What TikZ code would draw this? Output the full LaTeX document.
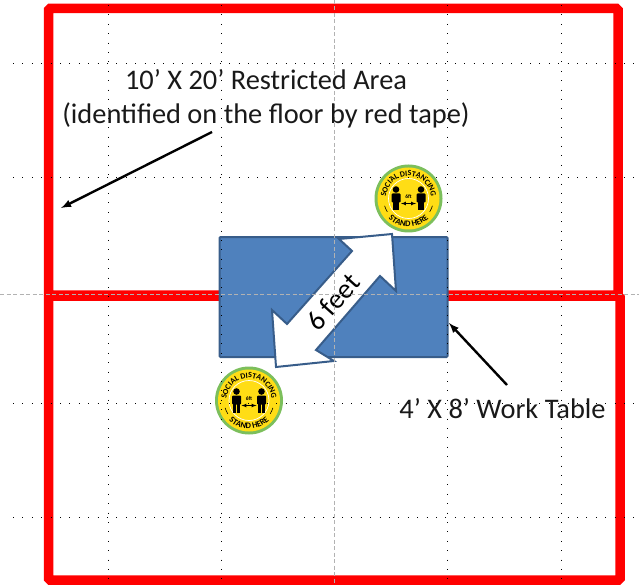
\documentclass[tikz,border=0pt]{standalone}
\usepackage{xcolor}
\usepackage{fontspec}
\setmainfont{Carlito}
\usetikzlibrary{decorations.text}
\definecolor{tapeColor}{RGB}{255, 0, 0}
\definecolor{tableColor}{RGB}{79, 129, 189}
\definecolor{tableEdge}{RGB}{56, 93, 138}
\definecolor{signGreen}{RGB}{124, 191, 92}
\definecolor{signYellow}{RGB}{255, 221, 21}
\tikzset{
  tape/.style={draw=tapeColor, line width=9.5pt, rounded corners=1.5pt},
  guidedots/.style={black, line width=0.9pt, dash pattern=on 0.9pt off 8.5pt},
  guidedash/.style={black!30, line width=0.7pt, dash pattern=on 4pt off 2.5pt},
  callout/.style={-latex, line width=2.4pt, black},
  caption/.style={font=\fontsize{28.4}{34}\selectfont, align=center, text=black!90, inner sep=0pt},
  floorsign/.pic={
    \begin{scope}[y=1pt]
      \fill[signGreen] (0,0) circle (34);
      \fill[signYellow] (0,0) circle (31);
      \draw[white, line width=0.7pt] (0,0) circle (20);
      \foreach \sx in {-12.5,12.5} {
        \fill[black] (\sx,9) circle (3.3);
        \fill[black, rounded corners=1pt] (\sx-4.5,5) rectangle (\sx+4.5,-4);
        \fill[black] (\sx-3.2,-3) rectangle (\sx-0.3,-12);
        \fill[black] (\sx+0.3,-3) rectangle (\sx+3.2,-12);
      }
      \draw[<->, >=latex, line width=0.7pt] (-7.5,-5) -- (7.5,-5);
      \node[font=\fontsize{5.5}{5.5}\bfseries\selectfont, inner sep=0pt] at (0,2) {6ft};
      \path[decorate, decoration={text along path, text align=center,
        text={|\fontsize{8}{8}\bfseries\selectfont|SOCIAL DISTANCING}}]
        (215:22.5) arc[start angle=215, end angle=-35, radius=22.5];
      \path[decorate, decoration={text along path, text align=center,
        text={|\fontsize{8.5}{8.5}\bfseries\selectfont|STAND HERE}}]
        (-28.5,0) arc[start angle=180, end angle=360, radius=28.5];
      \draw[black, line width=0.6pt] (197:25) arc[start angle=197, end angle=212, radius=25];
      \draw[black, line width=0.6pt] (-17:25) arc[start angle=-17, end angle=-32, radius=25];
    \end{scope}
  }
}
\begin{document}
\begin{tikzpicture}[x=1pt, y=-1pt]
  \useasboundingbox (0,0) rectangle (639,585);
  % floor tape
  \draw[tape] (48.5,8.5) rectangle (618,295);
  \draw[tape] (48.5,296) rectangle (620,580);
  % table and floor signs
  \node[draw=tableEdge, fill=tableColor, line width=2pt, rounded corners=1pt, minimum width=228pt, minimum height=120pt, inner sep=0pt] (table) at (333.5,297) {};
  \pic at (408.5,198.5) {floorsign};
  \pic at (249,400.5) {floorsign};
  % six foot arrow
  \draw[draw=tableEdge, fill=white, line width=2pt, line join=miter]
    (339,239) -- (392,234) -- (396,291) -- (380,276) -- (316,350) -- (334,361)
    -- (276,367) -- (272,310) -- (287,324) -- (352,251) -- cycle;
  \node[font=\fontsize{28}{28}\selectfont, rotate=48, inner sep=0pt] (spacing) at (333,302) {6 feet};
  % guides
  \foreach \gx in {108,221.5,447.5,561} {
    \draw[guidedots] (\gx,5) -- (\gx,585);
  }
  \foreach \gy in {63.5,177,403,517} {
    \draw[guidedots] (13,\gy) -- (639,\gy);
  }
  \draw[guidedash] (334,0) -- (334,585);
  \draw[guidedash] (0,294) -- (639,294);
  % labels
  \node[caption] (area) at (266,99) {10’ X 20’ Restricted Area\\(identified on the floor by red tape)};
  \node[caption] (worktable) at (502.5,409) {4’ X 8’ Work Table};
  \coordinate (areaTail) at (212,132);
  \coordinate (areaTip) at (61,208);
  \coordinate (tableTail) at (507,385);
  \coordinate (tableTip) at (449,323);
  \draw[callout] (areaTail) -- (areaTip);
  \draw[callout] (tableTail) -- (tableTip);
\end{tikzpicture}
\end{document}
